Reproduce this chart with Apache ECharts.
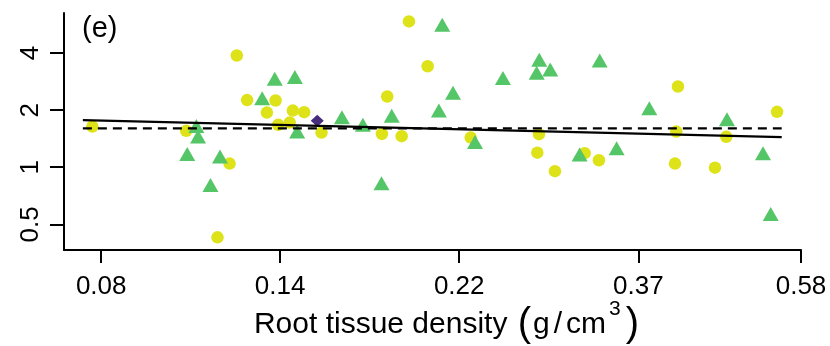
<!DOCTYPE html>
<html><head><meta charset="utf-8">
<script src="https://cdn.jsdelivr.net/npm/echarts@6/dist/echarts.min.js"></script>
<style>html,body{margin:0;padding:0;background:#fff}#c{width:830px;height:346px}</style>
</head><body><div id="c"></div>
<script>
// ---- data ----
const xTickValues = [0.0821, 0.1353, 0.2231, 0.3679, 0.5795];
const xTickLabels = ['0.08', '0.14', '0.22', '0.37', '0.58'];
const yTickValues = [0.5, 1, 2, 4];
const yTickLabels = ['0.5', '1', '2', '4'];
const xLimits = [0.0740, 0.5795];
const yLimits = [0.366, 6.507];

const circleDensity = [0.0801,0.1199,0.1234,0.1041,0.1175,0.1136,0.1939,0.2043,0.1336,0.1304,0.1402,0.1447,0.1346,0.1390,0.1519,0.1825,0.1798,0.1900,0.2304,0.2788,0.2775,0.2915,0.3167,0.3296,0.4110,0.5420,0.4091,0.4704,0.4076,0.4557];
const circleValue = [1.638,3.885,2.259,1.555,1.045,0.427,5.874,3.407,2.248,1.942,1.990,1.952,1.673,1.720,1.523,2.360,1.499,1.458,1.433,1.494,1.194,0.953,1.186,1.089,2.665,1.959,1.542,1.446,1.045,0.995];

const triangleDensity = [0.1071,0.1076,0.1044,0.1144,0.1114,0.1333,0.1410,0.1287,0.1419,0.1608,0.1705,0.1848,0.1796,0.2128,0.2193,0.2108,0.2521,0.2790,0.2770,0.2877,0.3303,0.2332,0.3123,0.3463,0.3794,0.4713,0.5212,0.5325];
const triangleValue = [1.652,1.451,1.175,1.138,0.806,2.926,2.988,2.314,1.542,1.837,1.673,1.866,0.823,5.644,2.468,1.990,2.952,3.687,3.148,3.277,3.656,1.360,1.166,1.260,2.049,1.793,1.186,0.567];

const diamondDensity = [0.1501];
const diamondValue = [1.756];

const fitDensity = [0.0780, 0.5491];
const solidFit = [1.771, 1.442];
const dashedFit = [1.603, 1.603];

const panelLabel = '(e)';

// ---- build ----
const FONT = "'Liberation Sans', Arial, Helvetica, sans-serif";
const lx = Math.log, ly = Math.log2;
const pts = (xs, ys) => xs.map((x, i) => [lx(x), ly(ys[i])]);
const nearestLabel = (v, vals, labels, f) => {
  let best = 0, bd = Infinity;
  vals.forEach((t, i) => { const d = Math.abs(f(t) - v); if (d < bd) { bd = d; best = i; } });
  return labels[best];
};

const chart = echarts.init(document.getElementById('c'), null, {renderer: 'canvas'});
chart.setOption({
  animation: false,
  backgroundColor: '#ffffff',
  grid: {left: 64, right: 29, top: 13, bottom: 96, containLabel: false, outerBoundsMode: 'none'},
  xAxis: {
    type: 'value', min: lx(xLimits[0]), max: lx(xLimits[1]),
    axisLine: {show: true, onZero: false, lineStyle: {color: '#000', width: 2}},
    axisTick: {show: true, length: 13, lineStyle: {color: '#000', width: 2}, customValues: xTickValues.map(lx)},
    axisLabel: {customValues: xTickValues.map(lx), fontSize: 26, color: '#000', fontFamily: FONT, margin: 24,
      formatter: v => nearestLabel(v, xTickValues, xTickLabels, lx)},
    splitLine: {show: false},
    name: '{t|Root tissue density }{p|(}{t|g}{sl|/}{t|cm}{s|3}{p|)}',
    nameLocation: 'middle', nameGap: 49, nameMoveOverlap: false,
    nameTextStyle: {color: '#000', fontFamily: FONT, padding: [0, 0, 0, 30],
      rich: {
        t: {fontSize: 30, color: '#000', fontFamily: FONT, verticalAlign: 'middle'},
        sl: {fontSize: 30, color: '#000', fontFamily: FONT, verticalAlign: 'middle', padding: [0, 4, 0, 4]},
        p: {fontSize: 40, color: '#000', fontFamily: FONT, lineHeight: 52, verticalAlign: 'middle', padding: [0, 2, 0, 2]},
        s: {fontSize: 21, color: '#000', fontFamily: FONT, lineHeight: 20, verticalAlign: 'top', padding: [0, 3, 0, 3]}
      }}
  },
  yAxis: {
    type: 'value', min: ly(yLimits[0]), max: ly(yLimits[1]),
    axisLine: {show: true, onZero: false, lineStyle: {color: '#000', width: 2}},
    axisTick: {show: true, length: 14, lineStyle: {color: '#000', width: 2}, customValues: yTickValues.map(ly)},
    axisLabel: {customValues: yTickValues.map(ly), rotate: 90, fontSize: 26, color: '#000', fontFamily: FONT, margin: 20,
      formatter: v => nearestLabel(v, yTickValues, yTickLabels, ly)},
    splitLine: {show: false}
  },
  graphic: [{type: 'text', x: 82, y: 28.5, z: 100,
    style: {text: panelLabel, fontSize: 29, fill: '#000', fontFamily: FONT, textAlign: 'left', textVerticalAlign: 'middle', verticalAlign: 'middle'}}],
  series: [
    {type: 'scatter', data: pts(circleDensity, circleValue), symbol: 'circle', symbolSize: 12.5,
      itemStyle: {color: '#dde318', opacity: 1}, z: 2},
    {type: 'scatter', data: pts(triangleDensity, triangleValue), symbol: 'triangle', symbolSize: [16, 14],
      itemStyle: {color: '#55c667', opacity: 1}, z: 3},
    {type: 'scatter', data: pts(diamondDensity, diamondValue), symbol: 'diamond', symbolSize: [13, 12],
      itemStyle: {color: '#472d7b', opacity: 1}, z: 4},
    {type: 'line', data: pts(fitDensity, solidFit), symbol: 'none', z: 5,
      lineStyle: {color: '#000', width: 2.2, type: 'solid'}},
    {type: 'line', data: pts(fitDensity, dashedFit), symbol: 'none', z: 5,
      lineStyle: {color: '#000', width: 2.2, type: [9, 6]}}
  ]
});
</script></body></html>
